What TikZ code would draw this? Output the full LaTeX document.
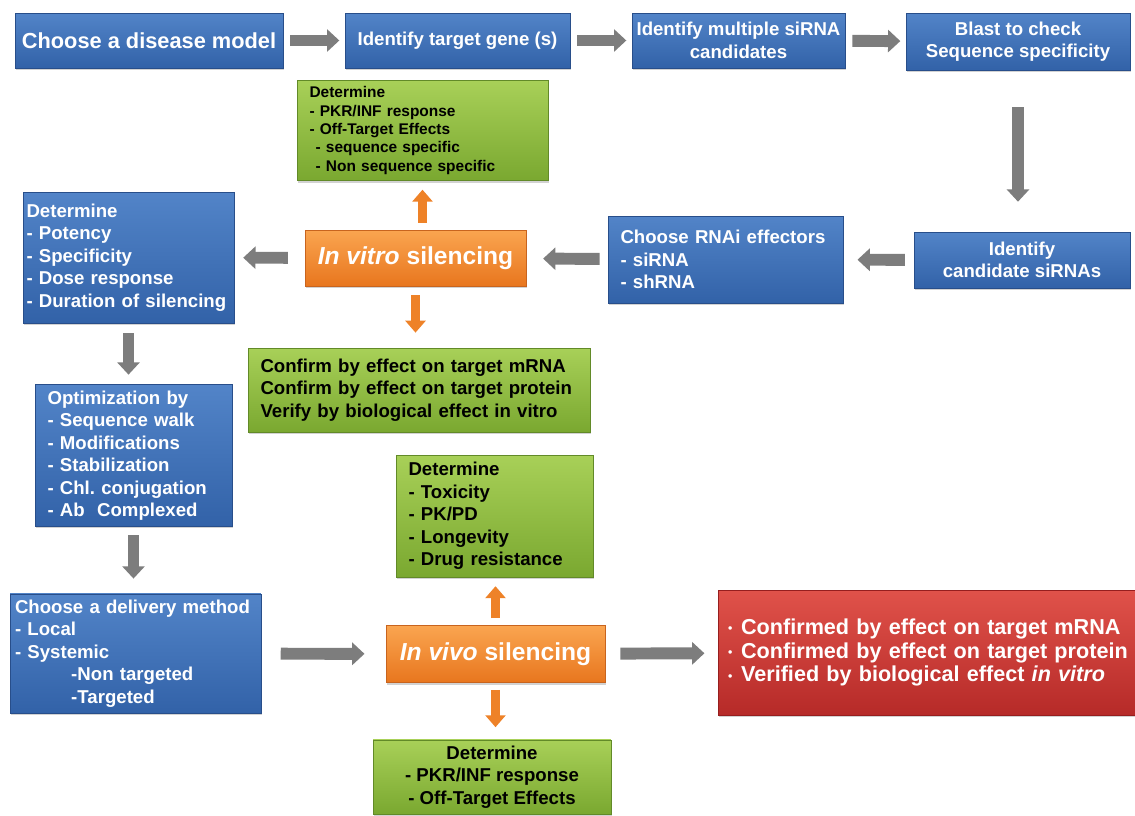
\documentclass[tikz,border=0pt]{standalone}
\usepackage{fontspec}
\setmainfont{Liberation Sans}
\usepackage{tikz}
\usetikzlibrary{arrows.meta,shadows}
\frenchspacing

\definecolor{blueT}{RGB}{82,132,200}
\definecolor{blueB}{RGB}{50,98,168}
\definecolor{blueD}{RGB}{40,78,138}
\definecolor{greenT}{RGB}{168,208,88}
\definecolor{greenB}{RGB}{122,168,48}
\definecolor{greenD}{RGB}{98,138,40}
\definecolor{orangeT}{RGB}{250,165,80}
\definecolor{orangeB}{RGB}{232,118,30}
\definecolor{orangeD}{RGB}{200,100,30}
\definecolor{redT}{RGB}{224,82,74}
\definecolor{redB}{RGB}{182,42,40}
\definecolor{redD}{RGB}{150,30,30}
\definecolor{arrgray}{RGB}{125,125,125}
\definecolor{arrorange}{RGB}{238,130,40}

\newcommand\dotitem{\raisebox{1pt}{\fontsize{7}{7}\selectfont\textbullet}\hspace{5pt}}

\begin{document}
\begin{tikzpicture}[x=0.02cm,y=-0.02cm,
	box/.style={rectangle,line width=0.5pt,drop shadow={shadow xshift=0.8pt,shadow yshift=-1.2pt,opacity=0.35}},
	blu/.style={box,draw=blueD,top color=blueT,bottom color=blueB,text=white},
	grn/.style={box,draw=greenD,top color=greenT,bottom color=greenB,text=black},
	org/.style={box,draw=orangeD,top color=orangeT,bottom color=orangeB,text=white,align=center,font=\bfseries\fontsize{14}{16}\selectfont},
	rd/.style={box,draw=redD,top color=redT,bottom color=redB,text=white,align=left,font=\bfseries\fontsize{12.3}{13.6}\selectfont},
	txt/.style={font=\bfseries\fontsize{10.6}{12.8}\selectfont},
	lft/.style={txt,align=left,inner xsep=0.25cm},
	ctr/.style={txt,align=center,inner xsep=2pt},
	garr/.style={draw=arrgray,line width=6.8pt,-{Triangle[width=12.5pt,length=7pt]},shorten <=4pt,shorten >=3pt},
	oarr/.style={draw=arrorange,line width=5.6pt,-{Triangle[width=11.3pt,length=6.8pt]},shorten <=4pt,shorten >=5pt}]
	\path[use as bounding box,fill=white] (0,0) rectangle (1135,815);
	
	% top row
	\node[blu,ctr,font=\bfseries\fontsize{12.4}{14}\selectfont,minimum width=5.36cm,minimum height=1.1cm] (disease) at (149,40.5) {Choose a disease model};
	\node[blu,ctr,minimum width=4.5cm,minimum height=1.1cm] (gene) at (457.5,40.5) {Identify target gene (s)};
	\node[blu,ctr,minimum width=4.26cm,minimum height=1.1cm] (multi) at (738.5,40.5) {Identify multiple siRNA\\candidates};
	\node[blu,ctr,minimum width=4.48cm,minimum height=1.14cm] (blast) at (1018,41.5) {Blast to check\\Sequence specificity};
	
	% in vitro row
	\node[blu,ctr,minimum width=4.32cm,minimum height=1.12cm] (cand) at (1022,260) {Identify\\candidate siRNAs};
	\node[blu,lft,text width=4.2cm,minimum width=4.7cm,minimum height=1.74cm] (effect) at (725.5,259.5) {Choose RNAi effectors\\- siRNA\\- shRNA};
	\node[org,minimum width=4.42cm,minimum height=1.12cm] (vitro) at (415.5,258) {\textit{In vitro} silencing};
	\node[blu,lft,inner xsep=0.07cm,text width=4.08cm,minimum width=4.22cm,minimum height=2.62cm] (detA) at (128.5,257.5) {Determine\\- Potency\\- Specificity\\- Dose response\\- Duration of silencing};
	\node[grn,lft,font=\bfseries\fontsize{8.8}{10.5}\selectfont,text width=4.52cm,minimum width=5.02cm,minimum height=1.9cm] (offtgt) at (422.5,130.5) {Determine\\- PKR/INF response\\- Off-Target Effects\\\hspace*{3.5pt}- sequence specific\\\hspace*{3.5pt}- Non sequence specific};
	\node[grn,lft,text width=6.34cm,minimum width=6.84cm,minimum height=1.68cm] (confirm) at (419,390) {Confirm by effect on target mRNA\\Confirm by effect on target protein\\Verify by biological effect in vitro};
	
	% left column and in vivo row
	\node[blu,lft,text width=3.44cm,minimum width=3.94cm,minimum height=2.82cm] (optim) at (133.5,455.5) {Optimization by\\- Sequence walk\\- Modifications\\- Stabilization\\- Chl. conjugation\\- Ab\ \ Complexed};
	\node[blu,lft,inner xsep=0.1cm,text width=4.82cm,minimum width=5.02cm,minimum height=2.26cm] (deliv) at (135.5,653.5) {Choose a delivery method\\- Local\\- Systemic\\\hspace*{32pt}-Non targeted\\\hspace*{32pt}-Targeted};
	\node[grn,lft,text width=3.44cm,minimum width=3.94cm,minimum height=2.44cm] (toxic) at (494.5,516) {Determine\\- Toxicity\\- PK/PD\\- Longevity\\- Drug resistance};
	\node[org,minimum width=4.38cm,minimum height=1.14cm] (vivo) at (495.5,654) {\textit{In vivo} silencing};
	\node[grn,ctr,minimum width=4.76cm,minimum height=1.44cm] (pkr) at (492,777) {Determine\\- PKR/INF response\\- Off-Target Effects};
	\node[rd,inner xsep=0.2cm,text width=8.0cm,minimum width=8.4cm,minimum height=2.5cm] (result) at (928,652.5) {\dotitem Confirmed by effect on target mRNA\\\dotitem Confirmed by effect on target protein\\\dotitem Verified by biological effect \textit{in vitro}};
	
	\draw[garr] (disease) -- (gene);
	\draw[garr] (gene) -- (multi);
	\draw[garr] (multi) -- (blast);
	\draw[garr,shorten <=21pt,shorten >=17pt] (blast.south) -- (blast.south |- cand.north);
	\draw[garr,shorten <=5pt,shorten >=8pt] (cand) -- (effect);
	\draw[garr,shorten <=4.5pt,shorten >=9.5pt] (effect) -- (vitro);
	\draw[garr,shorten <=9.5pt,shorten >=5pt] (vitro) -- (detA);
	\draw[garr,shorten <=5.5pt,shorten >=5.5pt] (detA.south) -- (detA.south |- optim.north);
	\draw[garr,shorten <=5pt,shorten >=8.5pt] (optim.south) -- (optim.south |- deliv.north);
	\draw[garr,shorten <=11pt,shorten >=12pt] (deliv) -- (vivo);
	\draw[garr,shorten <=8.5pt,shorten >=7.5pt] (vivo) -- (result);
	
	\draw[oarr] (vitro.north -| offtgt.south) -- (offtgt.south);
	\draw[oarr,shorten <=5pt,shorten >=8.5pt] (vitro.south) -- (vitro.south |- confirm.north);
	\draw[oarr] (vivo.north) -- (vivo.north |- toxic.south);
	\draw[oarr,shorten >=7pt] (vivo.south) -- (vivo.south |- pkr.north);
\end{tikzpicture}
\end{document}
